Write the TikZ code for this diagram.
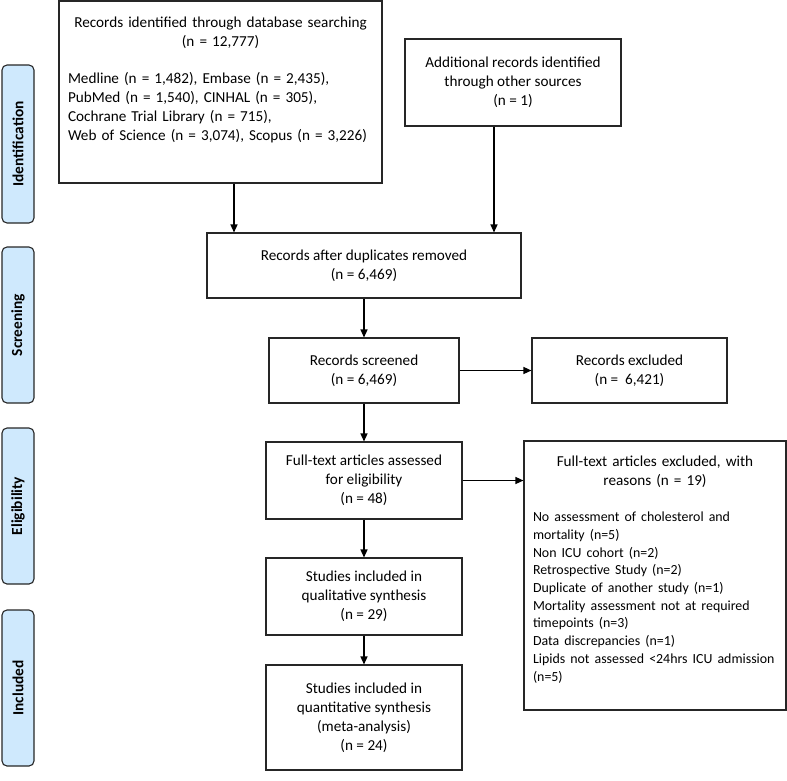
\documentclass[tikz,border=0pt]{standalone}
\usepackage{fontspec}
\setmainfont{Carlito}
\usetikzlibrary{arrows.meta}

\definecolor{phaseblue}{RGB}{207,233,253}

\begin{document}
\begin{tikzpicture}[x=1pt, y=-1pt,
    box/.style={draw=black!85, line width=1.1pt, align=center, inner sep=0pt, font=\fontsize{15.2}{19}\selectfont},
    phase/.style={draw=black!85, line width=1.1pt, fill=phaseblue, rounded corners=5pt, rotate=90, minimum height=32pt, font=\fontsize{15.4}{19}\selectfont\bfseries},
    arr/.style={-{Triangle[length=8pt, width=7pt]}, line width=1.3pt}]

    \useasboundingbox (0,0) rectangle (787,780);

    % phases
    \node[phase, minimum width=158pt] (ident) at (18,144) {Identification};
    \node[phase, minimum width=156pt] (screen) at (18,325) {Screening};
    \node[phase, minimum width=156pt] (elig) at (18,506) {Eligibility};
    \node[phase, minimum width=156pt] (incl) at (18,688) {Included};

    % identification
    \node[box, text width=305pt, align=left, minimum width=323pt, minimum height=182pt] (db) at (220.5,92)
        {{\centering Records identified through database searching\\ (n = 12,777)\par}\vspace{18pt}
        Medline (n = 1,482), Embase (n = 2,435),\\
        PubMed (n = 1,540), CINHAL (n = 305),\\
        Cochrane Trial Library (n = 715),\\
        Web of Science (n = 3,074), Scopus (n = 3,226)\par\vspace{7.5pt}\hbox{}};
    \node[box, minimum width=216pt, minimum height=87pt] (other) at (513,82.5)
        {Additional records identified\\ through other sources\\ (n = 1)};

    % screening
    \node[box, minimum width=314pt, minimum height=65pt] (dup) at (364,265.5)
        {Records after duplicates removed\\ (n = 6,469)};
    \node[box, minimum width=190pt, minimum height=65pt] (screened) at (364,370.5)
        {Records screened\\ (n = 6,469)};
    \node[box, minimum width=195pt, minimum height=65pt] (excl) at (629.5,370.5)
        {Records excluded\\ (n = \ 6,421)};

    % eligibility
    \node[box, text width=244pt, align=left, minimum width=262pt, minimum height=269pt] (reasons) at (655,575.5)
        {{\centering Full-text articles excluded, with\\ reasons (n = 19)\par}
        {\fontsize{13.9}{17.7}\selectfont\hyphenpenalty=10000\vspace{19pt}
        No assessment of cholesterol and\\
        mortality (n=5)\\
        Non ICU cohort (n=2)\\
        Retrospective Study (n=2)\\
        Duplicate of another study (n=1)\\
        Mortality assessment not at required\\
        timepoints (n=3)\\
        Data discrepancies (n=1)\\
        Lipids not assessed <24hrs ICU admission\\
        (n=5)\par}\vspace{-4.5pt}\hbox{}};
    \node[box, minimum width=196pt, minimum height=77pt] (fulltext) at (364,480.5)
        {Full-text articles assessed\\ for eligibility\\ (n = 48)};

    % included
    \node[box, minimum width=196pt, minimum height=77pt] (qual) at (364,596.5)
        {Studies included in\\ qualitative synthesis\\ (n = 29)};
    \node[box, minimum width=196pt, minimum height=105pt] (quant) at (364,717.5)
        {Studies included in\\ quantitative synthesis\\ (meta-analysis)\\ (n = 24)};

    % arrows
    \coordinate (dbout) at ([xshift=13.5pt]db.south);
    \coordinate (otherout) at ([xshift=-19pt]other.south);
    \draw[arr] (dbout) -- (dbout |- dup.north);
    \draw[arr] (otherout) -- (otherout |- dup.north);
    \draw[arr] (dup.south) -- (screened.north);
    \draw[arr] (screened.east) -- (excl.west);
    \draw[arr] (screened.south) -- (fulltext.north);
    \draw[arr] (fulltext.east) -- (fulltext.east -| reasons.west);
    \draw[arr] (fulltext.south) -- (qual.north);
    \draw[arr] (qual.south) -- (quant.north);
\end{tikzpicture}
\end{document}
